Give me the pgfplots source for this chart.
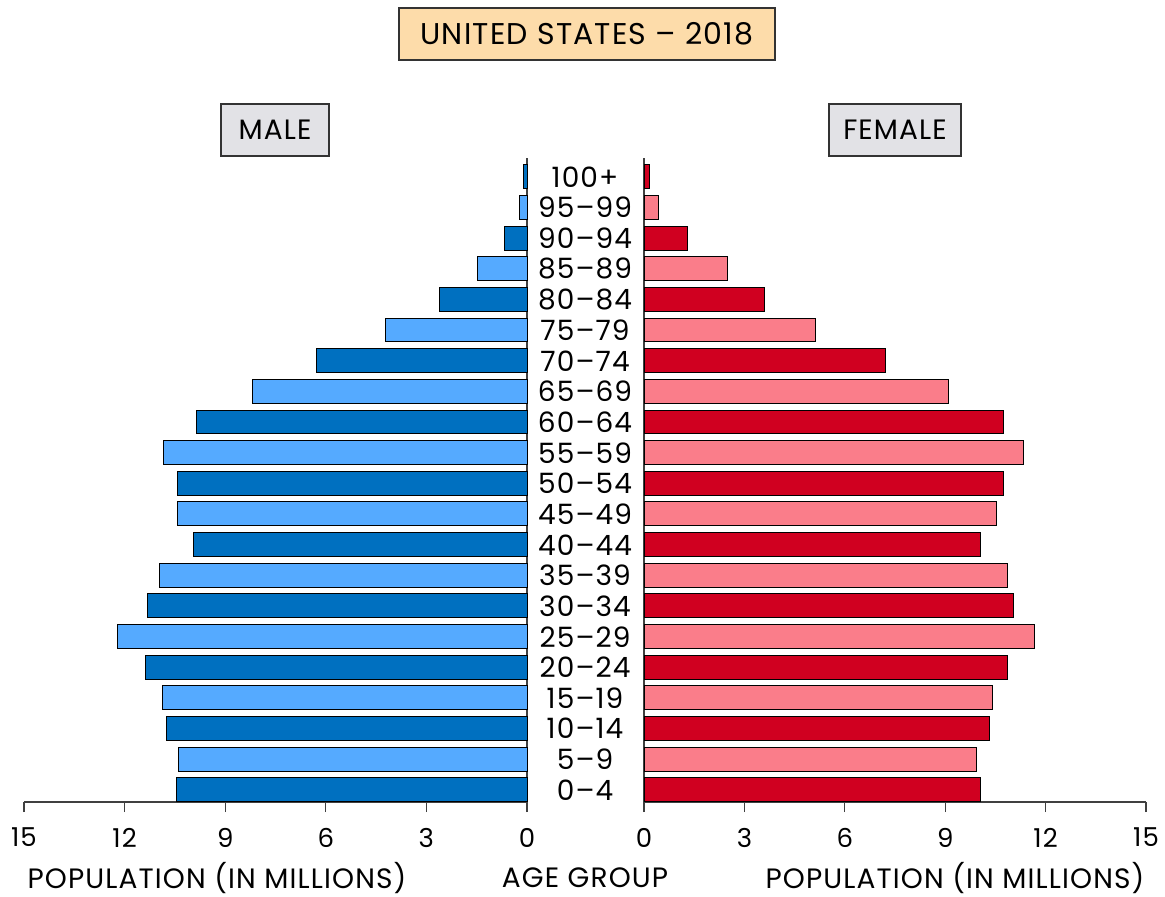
\documentclass[border=0pt]{standalone}
\usepackage{pgfplots}
\pgfplotsset{compat=1.18}
\usepackage{fontspec}
\setmainfont{Poppins}[LetterSpace=4]

\definecolor{mdark}{RGB}{0,112,192}
\definecolor{mlight}{RGB}{85,170,255}
\definecolor{fdark}{RGB}{208,0,32}
\definecolor{flight}{RGB}{250,125,138}
\definecolor{titlefill}{RGB}{253,220,170}
\definecolor{boxgrey}{RGB}{226,226,230}

\pgfplotsset{
  pyr/.style={
    scale only axis, width=251.5pt, height=321.8pt,
    xmin=0, xmax=15, ymin=-0.4, ymax=20.6,
    xtick={0,3,6,9,12,15}, ytick=\empty,
    axis x line*=bottom,
    axis line style={-, black!75, line width=0.6pt},
    tick align=outside, major tick length=5pt,
    tick style={black!75, line width=0.6pt},
    tick label style={font=\fontsize{13}{15}\selectfont},
    /pgf/number format/assume math mode=true,
    xticklabel style={yshift=-4.5pt},
    clip=false,
  },
  pbar/.style={xbar, bar width=0.78, bar shift=0pt, draw=black, line width=0.5pt},
}

\begin{document}
\begin{tikzpicture}[x=0.5pt, y=0.5pt]
\path[use as bounding box] (0,0) rectangle (1165,896);

% male side
\begin{axis}[pyr, at={(24pt*0.5,94pt*0.5)}, anchor=south west, x dir=reverse, axis y line*=right]
\addplot[pbar, fill=mdark] coordinates {
  (10.44,0) (10.74,2) (11.39,4) (11.33,6) (9.96,8) (10.41,10)
  (9.87,12) (6.29,14) (2.62,16) (0.66,18) (0.09,20)
};
\addplot[pbar, fill=mlight] coordinates {
  (10.38,1) (10.86,3) (12.20,5) (10.95,7) (10.41,9) (10.83,11)
  (8.20,13) (4.21,15) (1.49,17) (0.21,19)
};
\end{axis}

% female side
\begin{axis}[pyr, at={(644pt*0.5,94pt*0.5)}, anchor=south west, axis y line*=left, width=251pt]
\addplot[pbar, fill=fdark] coordinates {
  (10.04,0) (10.31,2) (10.85,4) (11.03,6) (10.04,8) (10.73,10)
  (10.73,12) (7.23,14) (3.59,16) (1.31,18) (0.15,20)
};
\addplot[pbar, fill=flight] coordinates {
  (9.92,1) (10.40,3) (11.68,5) (10.85,7) (10.52,9) (11.35,11)
  (9.11,13) (5.11,15) (2.48,17) (0.42,19)
};
\end{axis}

% age group labels
\foreach \lab [count=\i from 0] in {0–4,5–9,10–14,15–19,20–24,25–29,30–34,35–39,40–44,45–49,50–54,55–59,60–64,65–69,70–74,75–79,80–84,85–89,90–94,95–99,100+}
  \node[font=\fontsize{14}{16}\selectfont] at (585,{106+30.65*\i}) {\lab};

% titles and labels
\node[draw=black!80, fill=titlefill, line width=0.6pt, minimum width=188pt, minimum height=26pt, font=\fontsize{15}{18}\selectfont] at (587,862) {UNITED STATES – 2018};
\node[draw=black!80, fill=boxgrey, line width=0.6pt, minimum width=54pt, minimum height=26pt, font=\fontsize{14}{17}\selectfont] at (275,766) {MALE};
\node[draw=black!80, fill=boxgrey, line width=0.6pt, minimum width=66pt, minimum height=26pt, font=\fontsize{14}{17}\selectfont] at (895,766) {FEMALE};
\node[font=\fontsize{14}{16}\selectfont] at (217,18) {POPULATION (IN MILLIONS)};
\node[font=\fontsize{14}{16}\selectfont] at (585,18) {AGE GROUP};
\node[font=\fontsize{14}{16}\selectfont] at (955,18) {POPULATION (IN MILLIONS)};
\end{tikzpicture}
\end{document}
